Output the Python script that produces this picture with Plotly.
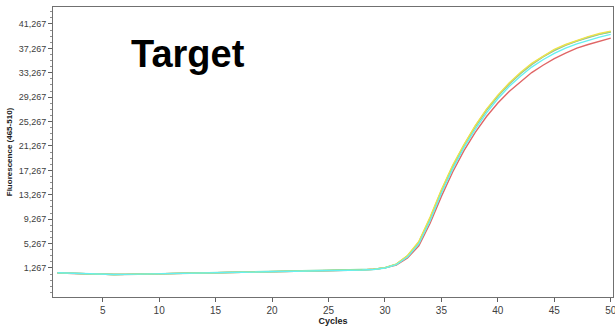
import plotly.graph_objects as go

cycles = list(range(1, 51))

red = [445,375,305,250,205,185,210,250,300,345,385,420,455,490,525,560,590,615,640,665,
       685,705,730,760,795,835,885,950,1050,1270,1750,2900,4900,8600,13000,17000,20500,23500,26100,28300,
       30200,31800,33300,34500,35600,36500,37300,37900,38450,38950]
gray = [440,380,310,255,210,190,200,235,280,325,365,400,435,470,505,540,570,595,620,645,
        665,685,710,740,775,815,865,930,1040,1280,1850,3200,5400,9300,13800,17800,21300,24400,27100,29400,
        31400,33100,34600,35850,36900,37750,38450,39050,39550,39950]
green = [455,385,315,258,212,193,203,238,282,328,368,402,438,472,508,542,572,598,622,648,
         668,688,712,742,778,818,868,935,1045,1290,1870,3250,5500,9450,13950,17950,21400,24500,27200,29500,
         31500,33200,34700,35900,37000,37850,38500,39100,39600,40000]
yellow = [450,390,320,260,215,195,205,240,285,330,370,405,440,475,510,545,575,600,625,650,
          670,690,715,745,780,820,870,940,1050,1300,1900,3300,5600,9600,14100,18100,21500,24600,27300,29600,
          31600,33300,34800,36000,37100,37900,38600,39200,39700,40100]
cyan = [470,400,330,270,220,200,205,235,275,315,355,390,425,460,495,530,560,585,610,635,
        655,675,700,730,765,805,855,920,1020,1250,1800,3050,5200,9000,13500,17500,21000,24000,26700,29000,
        31000,32700,34200,35400,36450,37300,38000,38600,39100,39550]

series = [("red", red, "#e06666"), ("gray", gray, "#b0b098"), ("green", green, "#77d699"),
          ("yellow", yellow, "#f2e04a"), ("cyan", cyan, "#66f0f0")]

y_tickvals = [1267, 5267, 9267, 13267, 17267, 21267, 25267, 29267, 33267, 37267, 41267]
y_ticktext = ["1,267", "5,267", "9,267", "13,267", "17,267", "21,267", "25,267",
              "29,267", "33,267", "37,267", "41,267"]
x_tickvals = [5, 10, 15, 20, 25, 30, 35, 40, 45, 50]

fig = go.Figure()
for name, vals, col in series:
    fig.add_trace(go.Scatter(x=cycles, y=vals, mode="lines", name=name,
                             line=dict(color=col, width=1.4), showlegend=False))

fig.update_layout(
    width=615, height=329,
    margin=dict(l=53, r=2, t=7, b=32, autoexpand=False),
    paper_bgcolor="white", plot_bgcolor="white",
    font=dict(family="Liberation Sans, Arial, sans-serif", size=10, color="#404040"),
    annotations=[dict(text="<b>Target</b>", x=(188 - 53) / 560, y=(297 - 54) / 290,
                      xref="paper", yref="paper",
                      showarrow=False, xanchor="center", yanchor="middle",
                      font=dict(family="Liberation Sans, Arial, sans-serif", size=38, color="black"))],
)
fig.update_xaxes(range=[0.6, 50.2], tickvals=x_tickvals, ticks="outside", ticklen=4,
                 tickcolor="#606060", showgrid=False, zeroline=False,
                 showline=True, linecolor="#707070", linewidth=1, mirror=True,
                 ticklabeloverflow="allow",
                 title=dict(text="<b>Cycles</b>", standoff=2,
                            font=dict(size=9, color="#202020")),
                 tickfont=dict(size=10, color="#404040"))
fig.update_yaxes(range=[-3500, 44050], tickvals=y_tickvals, ticktext=y_ticktext,
                 ticks="outside", ticklen=4, tickcolor="#606060",
                 minor=dict(dtick=1000, tick0=267, ticks="outside", ticklen=2, tickcolor="#909090"),
                 showgrid=False, zeroline=False,
                 showline=True, linecolor="#707070", linewidth=1, mirror=True,
                 title=dict(text="<b>Fluorescence (465-510)</b>", standoff=4,
                            font=dict(size=8, color="#202020")),
                 tickfont=dict(size=9, color="#404040"))

fig.write_html("out.html", config={"displayModeBar": False},
               post_script="document.body.style.margin='0';")
